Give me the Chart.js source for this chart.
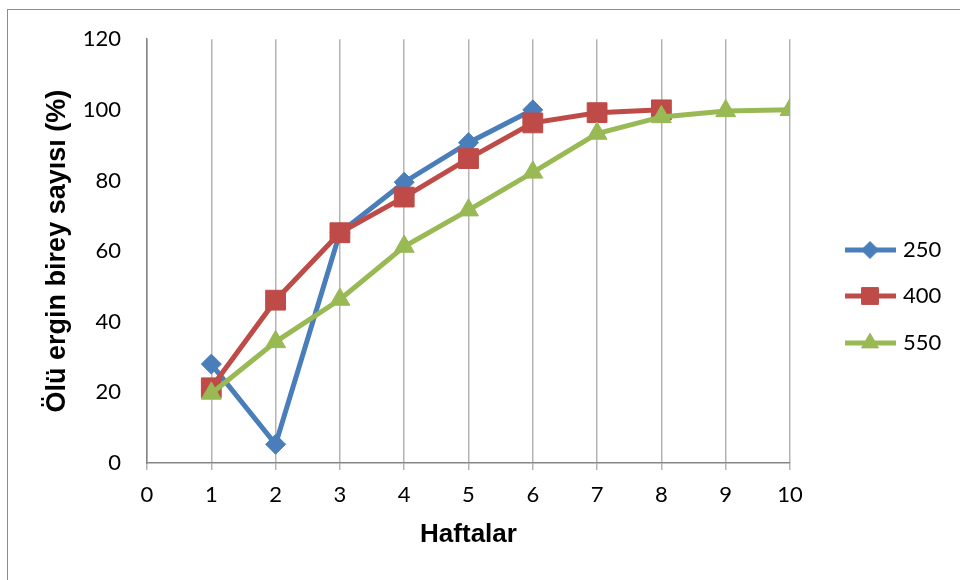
<!DOCTYPE html>
<html>
<head>
<meta charset="utf-8">
<script src="https://cdn.jsdelivr.net/npm/chart.js@4/dist/chart.umd.min.js"></script>
<style>
html,body{margin:0;padding:0;background:#fff}
#wrap{width:960px;height:580px;position:relative}
</style>
</head>
<body>
<div id="wrap"><canvas id="c" width="960" height="580"></canvas></div>
<script>
// haftalar (weeks)
const weeks=[1,2,3,4,5,6,7,8,9,10]
const seriesNames=["250","400","550"]
const s250=[28,5.3,65.2,79.5,90.7,100]
const s400=[21.3,46.1,65.2,75.3,86.2,96.3,99.2,100]
const s550=[19.7,34.3,46.3,61.3,71.6,82.3,93.3,98,99.7,100]
const xTicks=[0,1,2,3,4,5,6,7,8,9,10]
const yTicks=[0,20,40,60,80,100,120]

const colors=["#4a7ebb","#be4b48","#98b954"]
const shapes=["rectRot","rect","triangle"]
const radii=[10,14,11.5]

function pts(vals){
return vals.map((v,i)=>({x:weeks[i],y:v}))
}

const tickFont={family:"Lato, 'Open Sans', sans-serif",size:22}

// frame + legend (line with marker, like the original)
const extras={
id:"extras",
afterDraw(chart){
const ctx=chart.ctx
ctx.save()
ctx.strokeStyle="#8c8c8c"
ctx.lineWidth=1
ctx.strokeRect(7.5,9.5,1000,1000)
chart.data.datasets.forEach((ds,i)=>{
const y=[250,296,343][i]
ctx.strokeStyle=ds.borderColor
ctx.lineWidth=ds.borderWidth
ctx.beginPath()
ctx.moveTo(845,y)
ctx.lineTo(896,y)
ctx.stroke()
ctx.fillStyle=ds.backgroundColor
ctx.lineWidth=1
Chart.helpers.drawPoint(ctx,{pointStyle:ds.pointStyle,radius:ds.pointRadius*0.85,borderWidth:1},870,y)
ctx.fillStyle="#000"
ctx.font="22px Lato, 'Open Sans', sans-serif"
ctx.textBaseline="middle"
ctx.fillText(ds.label,903,y)
})
ctx.restore()
}
}

new Chart(document.getElementById("c"),{
type:"line",
data:{
datasets:[s250,s400,s550].map((vals,i)=>({
label:seriesNames[i],
data:pts(vals),
order:3-i,
borderColor:colors[i],
backgroundColor:colors[i],
borderWidth:5,
pointStyle:shapes[i],
pointRadius:radii[i],
pointHoverRadius:radii[i],
pointBorderWidth:1,
tension:0
}))
},
options:{
responsive:false,
animation:false,
layout:{padding:{left:0,top:38,right:170,bottom:0}},
plugins:{legend:{display:false},tooltip:{enabled:false}},
scales:{
x:{
type:"linear",
min:0,max:10,
afterBuildTicks(s){s.ticks=xTicks.map(v=>({value:v}))},
afterFit(s){s.height=117},
grid:{color:"#b4b4b4",lineWidth:1.5,tickLength:7,drawTicks:true},
border:{color:"#868686",width:1.5},
ticks:{font:tickFont,color:"#000",padding:12,maxRotation:0},
title:{display:true,text:"Haftalar",color:"#000",font:{family:"'Liberation Sans', Arial, sans-serif",size:26,weight:"bold"},padding:{top:0,bottom:30}}
},
y:{
min:0,max:120,
afterBuildTicks(s){s.ticks=yTicks.map(v=>({value:v}))},
afterFit(s){s.width=147},
grid:{drawOnChartArea:false,drawTicks:false},
border:{color:"#868686",width:1.5},
ticks:{font:tickFont,color:"#000",padding:26},
title:{display:true,text:"Ölü ergin birey sayısı (%)",color:"#000",font:{family:"'Liberation Sans', Arial, sans-serif",size:27,weight:"bold"},padding:{top:41,bottom:0}}
}
}
},
plugins:[extras]
})
</script>
</body>
</html>
